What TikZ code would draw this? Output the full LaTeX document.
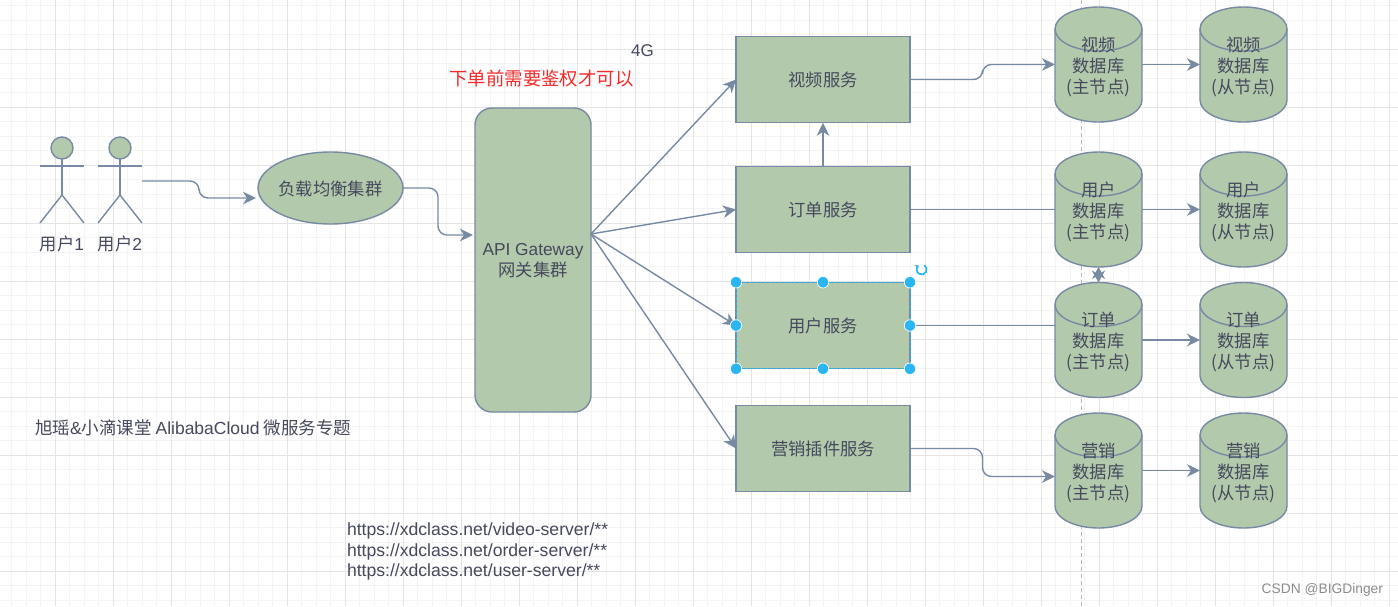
\documentclass[tikz,border=0pt]{standalone}
\usepackage{fontspec}
\setmainfont{Noto Sans CJK SC}
\newfontfamily\lat{Liberation Sans}
\usetikzlibrary{arrows.meta,calc,shapes.geometric}
\definecolor{sage}{HTML}{B2C9AB}
\definecolor{slate}{HTML}{788AA3}
\definecolor{ink}{HTML}{46495D}
\definecolor{gmaj}{HTML}{E4E4E4}
\definecolor{gmin}{HTML}{F4F4F4}
\definecolor{sel}{HTML}{29B6F2}
\definecolor{redtext}{HTML}{F52A2A}
\tikzset{
  x=1pt,y=-1pt,
  every node/.style={text=ink,font=\fontsize{17.3}{21}\selectfont,inner sep=0pt,outer sep=0pt,align=center},
  shape box/.style={draw=slate,fill=sage,line width=1.4pt},
  svc/.style={shape box,rectangle,minimum width=174pt,minimum height=86.5pt},
  conn/.style={draw=slate,line width=1.4pt},
  arr/.style={conn,-{Stealth[length=13pt,width=12.5pt,inset=4pt]}},
  plain/.style={conn},
  bent/.style={rounded corners=9pt},
  handle/.style={circle,fill=sel,draw=white,line width=.7pt,minimum size=11.5pt},
  note/.style={anchor=west,font=\fontsize{17.5}{20}\selectfont},
  url/.style={anchor=west,font=\lat\fontsize{17.6}{20}\selectfont},
}
% \dbcyl{name}{x-left}{y-top}{text}
\newcommand{\dbcyl}[4]{%
  \draw[shape box] (#2,#3+22) arc[x radius=43.5pt,y radius=22pt,start angle=180,end angle=0]
    -- (#2+87,#3+93) arc[x radius=43.5pt,y radius=22pt,start angle=0,end angle=-180] -- cycle;
  \draw[conn] (#2,#3+22) arc[x radius=43.5pt,y radius=22pt,start angle=180,end angle=360];
  \node[rectangle,minimum width=87pt,minimum height=115pt] (#1) at (#2+43.5,#3+57.5) {};
  \node (#1t) at (#2+43.5,#3+59.5) {#4};
}
% \actorfig{name}{x-centre}{text}
\newcommand{\actorfig}[3]{%
  \node[circle,shape box,minimum size=22pt] (#1) at (#2,148) {};
  \coordinate (#1hip) at (#2,195);
  \draw[conn] (#1.south) -- (#1hip);
  \draw[conn] (#2-22,166) -- (#2+22,166);
  \draw[conn] (#2-22,223) -- (#1hip) -- (#2+22,223);
  \node (#1lab) at (#2,244) {#3};
}
% \bentline{from}{to}: horizontal, vertical half-way, horizontal
\newcommand{\bentline}[2]{%
  \coordinate (bm) at ($(#1)!.5!(#2)$);
  \draw[arr,bent] (#1) -- (#1 -| bm) -- (bm |- #2) -- (#2);
}
\begin{document}
\begin{tikzpicture}
\useasboundingbox (0,0) rectangle (1398,606);
\fill[white] (0,0) rectangle (1398,606);
% grid
\foreach \k in {0,...,96} \draw[gmin,line width=.8pt] (-3+14.5*\k,0) -- (-3+14.5*\k,606);
\foreach \k in {0,...,42} \draw[gmin,line width=.8pt] (0,-9+14.5*\k) -- (1398,-9+14.5*\k);
\foreach \k in {0,...,24} \draw[gmaj,line width=.9pt] (-3+58*\k,0) -- (-3+58*\k,606);
\foreach \k in {0,...,10} \draw[gmaj,line width=.9pt] (0,-9+58*\k) -- (1398,-9+58*\k);
\draw[black!28,line width=.7pt,dash pattern=on 4pt off 3pt] (1081,0) -- (1081,606);

% actors
\actorfig{ua}{62}{用户{\lat 1}}
\actorfig{ub}{120}{用户{\lat 2}}
\coordinate (ubout) at (142,181);

% main nodes
\node[shape box,ellipse,minimum width=145pt,minimum height=72pt] (lb) at (330.5,188) {};
\node (lbt) at (330.5,188.5) {负载均衡集群};
\node[shape box,rectangle,rounded corners=17pt,minimum width=116pt,minimum height=304pt] (gw) at (533,260) {};
\node (gwt) at (533,261) {{\lat API Gateway}\\网关集群};
\coordinate (gwout) at (591,234);
\node[svc] (vs) at (823,79.5) {视频服务};
\node[svc] (os) at (823,209.5) {订单服务};
\node[svc] (us) at (823,325.5) {用户服务};
\node[svc] (ms) at (823,448.5) {营销插件服务};

% databases
\dbcyl{vm}{1055}{7}{视频\\数据库\\(主节点)}
\dbcyl{vs2}{1200}{7}{视频\\数据库\\(从节点)}
\dbcyl{um}{1055}{152}{用户\\数据库\\(主节点)}
\dbcyl{us2}{1200}{152}{用户\\数据库\\(从节点)}
\dbcyl{om}{1055}{282.5}{订单\\数据库\\(主节点)}
\dbcyl{os2}{1200}{282.5}{订单\\数据库\\(从节点)}
\dbcyl{mm}{1055}{413}{营销\\数据库\\(主节点)}
\dbcyl{ms2}{1200}{413}{营销\\数据库\\(从节点)}

% connectors
\coordinate (lbin) at ([yshift=-10pt,xshift=-2pt]lb.west);
\bentline{ubout}{lbin}
\coordinate (gwin) at ([yshift=25pt,xshift=-2pt]gw.west);
\bentline{lb.east}{gwin}
\draw[arr] (gwout) -- (vs.west);
\draw[arr] (gwout) -- (os.west);
\draw[arr] (gwout) -- (us.west);
\draw[arr] (gwout) -- (ms.west);
\draw[arr] (os.north) -- (vs.south);
\bentline{vs.east}{vm.west}
\draw[plain] (os.east) -- (os.east -| um.west);
\draw[plain] (us.east) -- (us.east -| om.west);
\coordinate (mmin) at ([yshift=-6pt]mm.west);
\bentline{ms.east}{mmin}
\draw[arr] (vm.east) -- (vs2.west);
\draw[arr] (um.east) -- (us2.west);
\draw[arr] (om.east) -- (os2.west);
\draw[arr] (mm.east) -- (ms2.west);
\draw[conn,{Stealth[length=12pt,width=13pt,inset=4pt]}-{Stealth[length=12pt,width=13pt,inset=4pt]}] (um.south) -- (om.north);

% selection
\draw[sel,line width=1pt,dash pattern=on 3pt off 2pt] (us.north west) rectangle (us.south east);
\foreach \a/\n in {north west/ha,north/hb,north east/hc,west/hd,east/he,south west/hf,south/hg,south east/hh}
  \node[handle] (\n) at (us.\a) {};
\coordinate (rot) at (921.7,269.5);
\draw[sel,line width=1.7pt,-{Stealth[length=3.5pt,width=5.5pt]}] ([shift={(60:5pt)}]rot) arc[radius=5pt,start angle=60,end angle=-235];

% texts
\node[text=redtext,font=\fontsize{18.4}{20}\selectfont] (tred) at (541.5,78.5) {下单前需要鉴权才可以};
\node[font=\lat\fontsize{17}{20}\selectfont] (t4g) at (642.5,51) {4G};
\node[note] (ttitle) at (35,427.5) {旭瑶{\lat\&}小滴课堂 {\lat AlibabaCloud} 微服务专题};
\node[url] (tu1) at (347,531) {https://xdclass.net/video-server/**};
\node[url] (tu2) at (347,551.5) {https://xdclass.net/order-server/**};
\node[url] (tu3) at (347,572) {https://xdclass.net/user-server/**};
\node[anchor=east,text=black!45,font=\lat\fontsize{13.8}{15}\selectfont] (wm) at (1383,590) {CSDN @BIGDinger};
\end{tikzpicture}
\end{document}
